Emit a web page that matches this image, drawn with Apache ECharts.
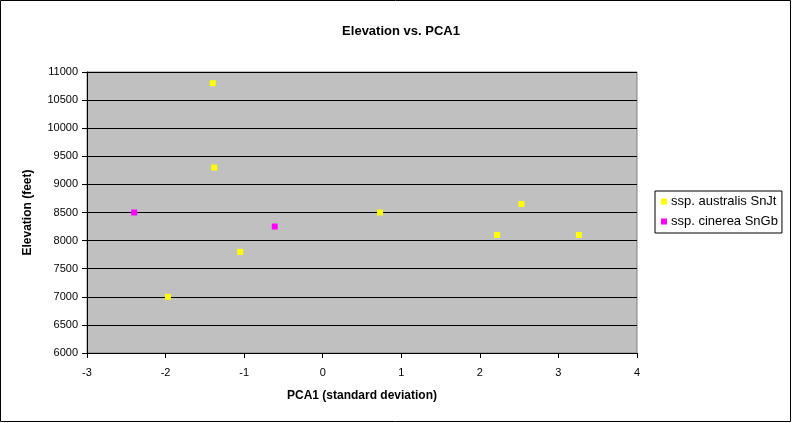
<!DOCTYPE html>
<html>
<head>
<meta charset="utf-8">
<script src="https://cdn.jsdelivr.net/npm/echarts@6/dist/echarts.min.js"></script>
<style>
  html, body { margin: 0; padding: 0; background: #fff; }
  #chart { width: 792px; height: 423px; }
</style>
</head>
<body>
<div id="chart"></div>
<script>
// PCA1 (standard deviation) vs. elevation (feet)
var australisX = [-1.40, -1.38, -1.05, -1.97, 0.73, 2.22, 2.53, 3.26];
var australisY = [10800, 9300, 7800, 7000, 8500, 8100, 8650, 8100];
var cinereaX = [-2.40, -0.61];
var cinereaY = [8500, 8250];
var seriesNames = ['ssp. australis SnJt', 'ssp. cinerea SnGb'];

function pairs(xs, ys) {
    return xs.map(function (x, i) { return [x, ys[i]]; });
}

var font = 'Liberation Sans, Arial, sans-serif';
var chart = echarts.init(document.getElementById('chart'));

var option = {
    animation: false,
    backgroundColor: '#fff',
    title: {
        text: 'Elevation vs. PCA1',
        left: 396,
        textAlign: 'center',
        top: 20,
        textStyle: { fontFamily: font, fontSize: 13, fontWeight: 'bold', color: '#000' }
    },
    grid: {
        left: 87, top: 72, right: 155, bottom: 70,
        show: true,
        backgroundColor: '#C0C0C0',
        borderColor: '#808080',
        borderWidth: 1
    },
    legend: {
        orient: 'vertical',
        left: 655, top: 191,
        padding: [4, 4, 5, 6],
        itemGap: 7,
        itemWidth: 6, itemHeight: 6,
        icon: 'rect',
        borderColor: '#000', borderWidth: 1,
        backgroundColor: '#fff',
        textStyle: { fontFamily: font, fontSize: 13, color: '#000', padding: [0, 0, 0, -1] },
        data: seriesNames
    },
    xAxis: {
        type: 'value',
        min: -3, max: 4, interval: 1,
        name: 'PCA1 (standard deviation)',
        nameLocation: 'middle',
        nameGap: 37,
        nameTextStyle: { fontFamily: font, fontSize: 12, fontWeight: 'bold', color: '#000' },
        axisLine: { onZero: false, lineStyle: { color: '#000', width: 1 } },
        axisTick: { inside: false, length: 5, lineStyle: { color: '#000' } },
        axisLabel: { fontFamily: font, fontSize: 11, color: '#000', margin: 14 },
        splitLine: { show: false }
    },
    yAxis: {
        type: 'value',
        min: 6000, max: 11000, interval: 500,
        name: 'Elevation (feet)',
        nameLocation: 'middle',
        nameGap: 53,
        nameTextStyle: { fontFamily: font, fontSize: 12, fontWeight: 'bold', color: '#000' },
        axisLine: { show: true, onZero: false, lineStyle: { color: '#000', width: 1 } },
        axisTick: { show: true, inside: false, length: 5, lineStyle: { color: '#000' } },
        axisLabel: {
            fontFamily: font, fontSize: 11, color: '#000', margin: 9,
            formatter: function (v) { return String(v); }
        },
        splitLine: { show: true, lineStyle: { color: '#000', width: 1 } }
    },
    series: [{
        name: seriesNames[0],
        type: 'scatter',
        symbol: 'rect',
        symbolSize: 6,
        itemStyle: { color: '#FFFF00', opacity: 1 },
        data: pairs(australisX, australisY)
    }, {
        name: seriesNames[1],
        type: 'scatter',
        symbol: 'rect',
        symbolSize: 6,
        itemStyle: { color: '#FF00FF', opacity: 1 },
        data: pairs(cinereaX, cinereaY)
    }],
    graphic: [{
        type: 'rect',
        shape: { x: 0.5, y: 0.5, width: 790, height: 421 },
        style: { fill: 'none', stroke: '#000', lineWidth: 1 },
        silent: true
    }]
};

chart.setOption(option);
</script>
</body>
</html>
